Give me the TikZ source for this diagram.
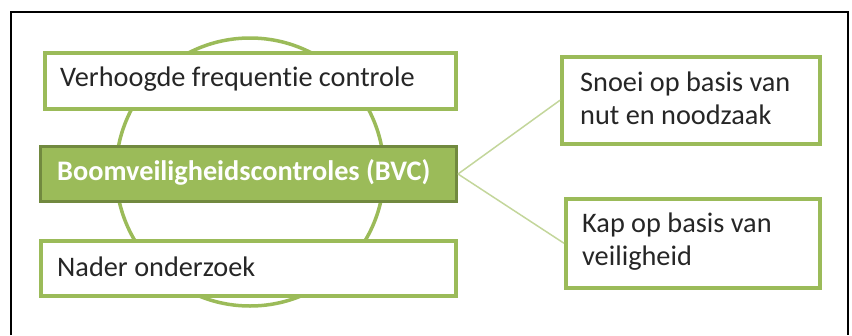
\documentclass[tikz,border=0pt]{standalone}
\usepackage{fontspec}
\setmainfont{Carlito}[Ligatures={NoCommon}]
\definecolor{lgreen}{HTML}{9BBB59}
\definecolor{dgreen}{HTML}{71893F}
\definecolor{pgreen}{HTML}{C3D69B}
\tikzset{
  box/.style={draw=lgreen, line width=3.5pt, fill=white, anchor=north west, inner sep=0pt},
  mainbox/.style={draw=dgreen, line width=3pt, fill=lgreen, anchor=north west, inner sep=0pt},
  txt/.style={anchor=west, inner sep=0pt, font=\fontsize{28.3}{32.5}\selectfont, text=black!85},
  link/.style={draw=pgreen, line width=1.5pt}
}
\begin{document}
\begin{tikzpicture}[x=1pt,y=-1pt]
\useasboundingbox (0,0) rectangle (852,335);
\draw[line width=1.8pt] (11,335) -- (11,12) -- (848,12) -- (848,335);
\draw[lgreen, line width=3.5pt] (250,172) circle (134);
\node[box, minimum width=411pt, minimum height=56pt] (top) at (43,51) {};
\node[txt] (toptxt) at (60,79) {Verhoogde frequentie controle};
\node[mainbox, minimum width=416pt, minimum height=55pt] (mid) at (39,145) {};
\node[txt, font=\fontsize{28.3}{32.5}\selectfont\bfseries, text=white] (midtxt) at (57,172.5) {Boomveiligheidscontroles (BVC)};
\node[box, minimum width=415pt, minimum height=55pt] (bot) at (39,239) {};
\node[txt] (bottxt) at (57,266.5) {Nader onderzoek};
\node[box, minimum width=258pt, minimum height=87pt] (r1) at (560,55) {};
\node[txt, align=left] (r1txt) at (580,98.5) {Snoei op basis van\\nut en noodzaak};
\node[box, minimum width=254pt, minimum height=89pt] (r2) at (564,197) {};
\node[txt, align=left] (r2txt) at (582,241.5) {Kap op basis van\\veiligheid};
\draw[link] (mid.east) -- (r1.west);
\draw[link] (mid.east) -- (r2.west);
\end{tikzpicture}
\end{document}
